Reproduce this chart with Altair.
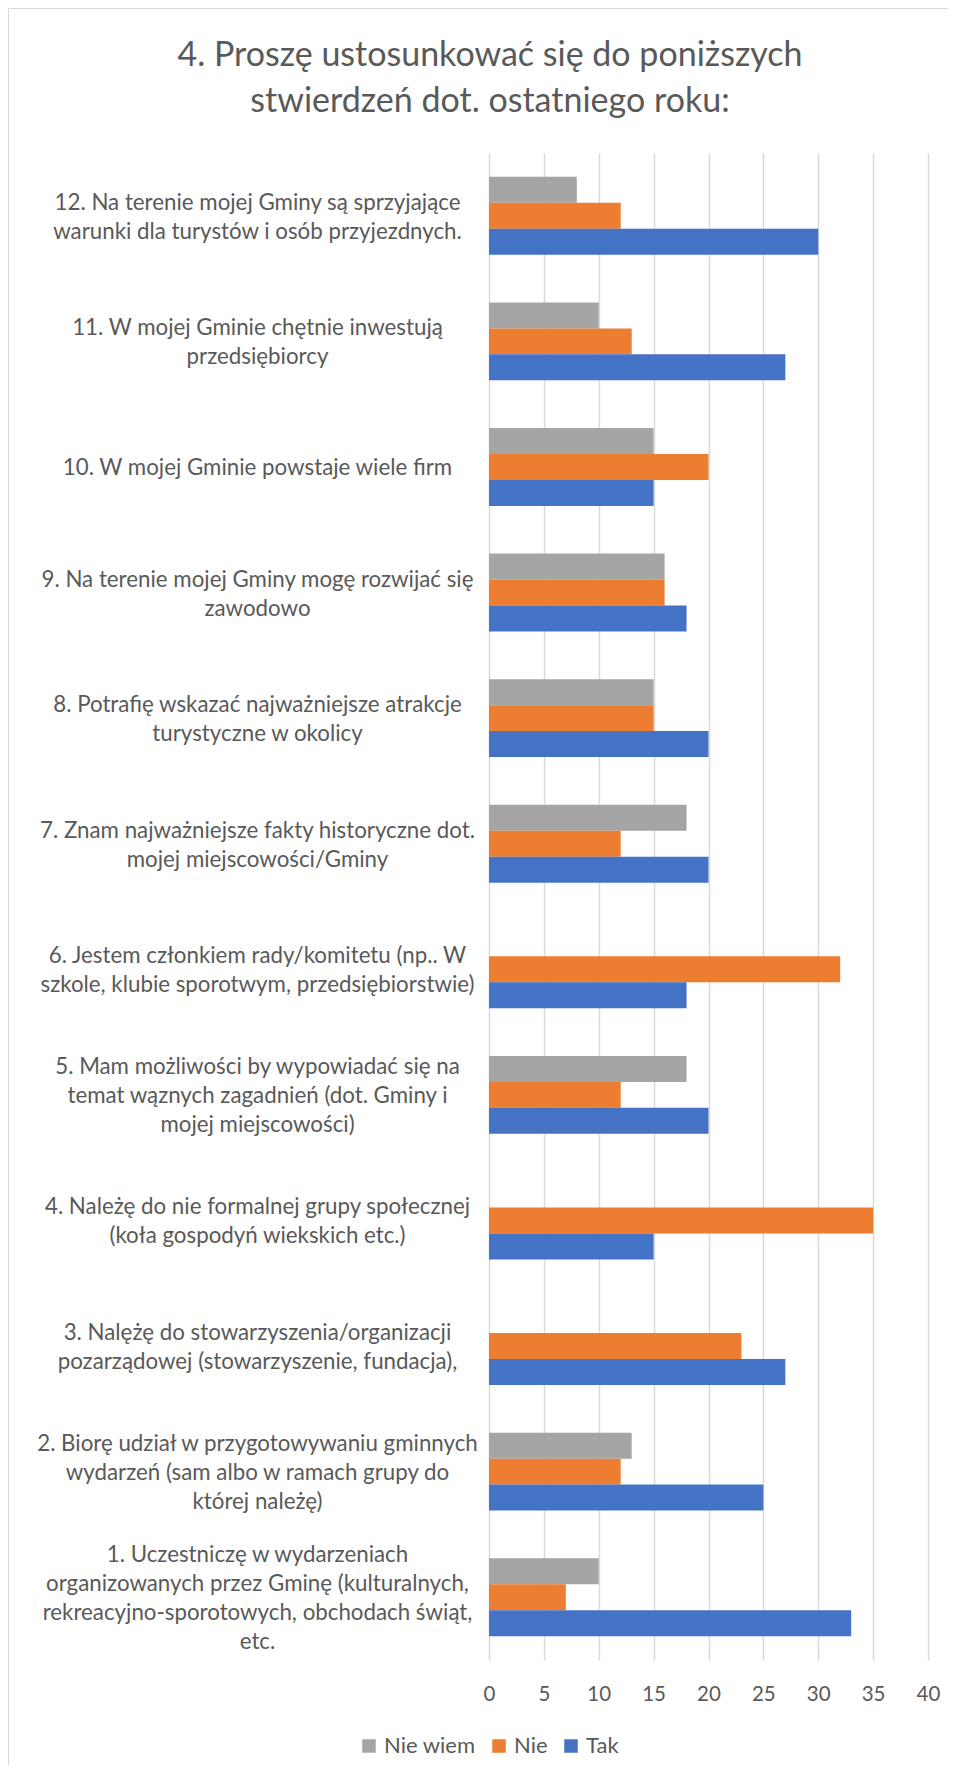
import altair as alt
import pandas as pd

questions = [
    "12. Na terenie mojej Gminy są sprzyjające|warunki dla turystów i osób przyjezdnych.",
    "11. W mojej Gminie chętnie inwestują|przedsiębiorcy",
    "10. W mojej Gminie powstaje wiele firm",
    "9. Na terenie mojej Gminy mogę rozwijać się|zawodowo",
    "8. Potrafię wskazać najważniejsze atrakcje|turystyczne w okolicy",
    "7. Znam najważniejsze fakty historyczne dot.|mojej miejscowości/Gminy",
    "6. Jestem członkiem rady/komitetu (np.. W|szkole, klubie sporotwym, przedsiębiorstwie)",
    "5. Mam możliwości by wypowiadać się na|temat wąznych zagadnień (dot. Gminy i|mojej miejscowości)",
    "4. Należę do nie formalnej grupy społecznej|(koła gospodyń wiekskich etc.)",
    "3. Nalężę do stowarzyszenia/organizacji|pozarządowej (stowarzyszenie, fundacja),",
    "2. Biorę udział w przygotowywaniu gminnych|wydarzeń (sam albo w ramach grupy do|której należę)",
    "1. Uczestniczę w wydarzeniach|organizowanych przez Gminę (kulturalnych,|rekreacyjno-sporotowych, obchodach świąt,|etc.",
]
nie_wiem = [8, 10, 15, 16, 15, 18, 0, 18, 0, 0, 13, 10]
nie = [12, 13, 20, 16, 15, 12, 32, 12, 35, 23, 12, 7]
tak = [30, 27, 15, 18, 20, 20, 18, 20, 15, 27, 25, 33]

series = ["Nie wiem", "Nie", "Tak"]
colors = ["#A5A5A5", "#ED7D31", "#4472C4"]
x_ticks = [0, 5, 10, 15, 20, 25, 30, 35, 40]
title_lines = ["4. Proszę ustosunkować się do poniższych", "stwierdzeń dot. ostatniego roku:"]

rows = []
for q, a, b, c in zip(questions, nie_wiem, nie, tak):
    for s, v in zip(series, [a, b, c]):
        rows.append({"question": q, "series": s, "value": v})
df = pd.DataFrame(rows)

TXT = "#595959"
FONT = "Lato"
LINE_H = 29

bars = alt.Chart(df).mark_bar().encode(
    x=alt.X(
        "value:Q",
        scale=alt.Scale(domain=[0, 40], nice=False),
        axis=alt.Axis(
            values=x_ticks, grid=True, gridColor="#D9D9D9", gridWidth=1.5,
            domain=False, ticks=False, tickSize=0, title=None, labelFlush=False,
            labelFontSize=20.5, labelColor=TXT, labelFont=FONT, labelPadding=24,
        ),
    ),
    y=alt.Y(
        "question:N",
        sort=questions,
        scale=alt.Scale(paddingInner=0.38, paddingOuter=0.19),
        axis=alt.Axis(
            title=None, domain=False, ticks=False, tickSize=0, grid=False,
            labelAlign="center", labelPadding=232,
            labelExpr="split(datum.label, '|')", labelLineHeight=LINE_H,
            labelOffset=alt.ExprRef(
                expr=f"-(length(split(datum.value, '|')) - 1) * {LINE_H / 2} + 1.5"
            ),
            labelLimit=700, labelFontSize=22.3, labelColor=TXT, labelFont=FONT,
        ),
    ),
    yOffset=alt.YOffset("series:N", sort=series,
                        scale=alt.Scale(paddingInner=0, paddingOuter=0)),
    color=alt.Color(
        "series:N",
        sort=series,
        scale=alt.Scale(domain=series, range=colors),
        legend=alt.Legend(
            title=None, orient="none", legendX=-131, legendY=1582,
            direction="horizontal", symbolType="square", symbolSize=182,
            symbolStrokeWidth=0, labelFontSize=22, labelColor=TXT,
            labelFont=FONT, columnPadding=12, labelOffset=4,
        ),
    ),
)

frame_df = pd.DataFrame({"k": [0]})
top_line = alt.Chart(frame_df).mark_rule(color="#D9D9D9", strokeWidth=1).encode(
    x=alt.value(-480.5), x2=alt.value(460), y=alt.value(-144.5)
)
left_line = alt.Chart(frame_df).mark_rule(color="#D9D9D9", strokeWidth=1).encode(
    x=alt.value(-480.5), y=alt.value(-144.5), y2=alt.value(1612)
)

chart = alt.layer(bars, top_line, left_line).properties(
    width=439,
    height=1507,
    title=alt.Title(
        title_lines, fontSize=34, font=FONT, color=TXT, fontWeight="normal",
        lineHeight=46, anchor="middle", dx=-218.5, offset=-111,
    ),
    autosize=alt.AutoSizeParams(type="none"),
    padding={"left": 481, "top": 145, "right": 20, "bottom": 106},
    background="white",
).configure(font=FONT).configure_view(stroke="transparent")

chart.save("out.html", embed_options={"renderer": "svg", "actions": False})
